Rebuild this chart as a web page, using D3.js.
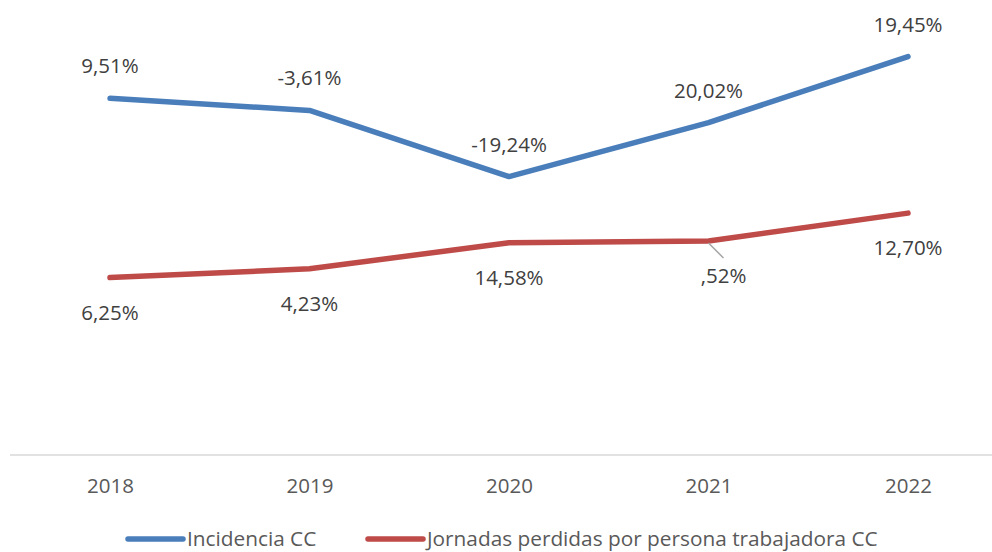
<!DOCTYPE html>
<html>
<head>
<meta charset="utf-8">
<script src="https://cdn.jsdelivr.net/npm/d3@7"></script>
<style>
  body { margin: 0; background: #fff; }
  text { font-family: "Open Sans", "Noto Sans", sans-serif; }
</style>
</head>
<body>
<div id="chart"></div>
<script>
// years and (estimated) line levels, labels are the yearly variation
const years = ["2018", "2019", "2020", "2021", "2022"];
const incidencia = [20.5, 19.8, 16.0, 19.1, 22.9];
const jornadas = [10.2, 10.7, 12.2, 12.3, 13.9];
const incidenciaLabels = ["9,51%", "-3,61%", "-19,24%", "20,02%", "19,45%"];
const jornadasLabels = ["6,25%", "4,23%", "14,58%", ",52%", "12,70%"];
const seriesNames = ["Incidencia CC", "Jornadas perdidas por persona trabajadora CC"];

const width = 992, height = 552;
const blue = "#4a7ebb", red = "#be4b48";

const svg = d3.select("#chart")
    .append("svg")
    .attr("width", width)
    .attr("height", height);

const xScale = d3.scalePoint()
    .domain(years)
    .range([110, 908]);

const yScale = d3.scaleLinear()
    .domain([0, 25])
    .range([455, 20]);

// category axis
const xAxis = svg.append("g")
    .attr("transform", `translate(0, ${yScale(0)})`)
    .call(d3.axisBottom(xScale).tickSize(0).tickPadding(0));
xAxis.select(".domain").remove();
xAxis.append("line")
    .attr("x1", 10).attr("x2", 992)
    .attr("stroke", "#d9d9d9")
    .attr("stroke-width", 1.5);
xAxis.selectAll(".tick text")
    .attr("y", 38)
    .attr("dy", null)
    .style("font-size", "20.5px")
    .attr("fill", "#595959");

const line = d3.line()
    .x((d, i) => xScale(years[i]))
    .y(d => yScale(d));

function drawSeries(values, color) {
    svg.append("path")
        .datum(values)
        .attr("d", line)
        .attr("fill", "none")
        .attr("stroke", color)
        .attr("stroke-width", 5.5)
        .attr("stroke-linecap", "round")
        .attr("stroke-linejoin", "round");
}

drawSeries(incidencia, blue);
drawSeries(jornadas, red);

// labels above the blue line
svg.selectAll(".lbl-inc")
    .data(incidencia)
    .enter()
    .append("text")
    .attr("class", "lbl-inc")
    .attr("x", (d, i) => xScale(years[i]))
    .attr("y", d => yScale(d) - 25)
    .attr("text-anchor", "middle")
    .style("font-size", "20.5px")
    .attr("fill", "#404040")
    .text((d, i) => incidenciaLabels[i]);

// labels below the red line (2021 moved aside with a leader line)
const shiftX = [0, 0, 0, 15, 0];
svg.append("line")
    .attr("x1", xScale("2021"))
    .attr("y1", yScale(jornadas[3]) + 2)
    .attr("x2", xScale("2021") + 15)
    .attr("y2", yScale(jornadas[3]) + 17)
    .attr("stroke", "#a6a6a6")
    .attr("stroke-width", 1.5);

svg.selectAll(".lbl-jor")
    .data(jornadas)
    .enter()
    .append("text")
    .attr("class", "lbl-jor")
    .attr("x", (d, i) => xScale(years[i]) + shiftX[i])
    .attr("y", d => yScale(d) + 42)
    .attr("text-anchor", "middle")
    .style("font-size", "20.5px")
    .attr("fill", "#404040")
    .text((d, i) => jornadasLabels[i]);

// legend
const legend = [
    { name: seriesNames[0], color: blue, x: 128 },
    { name: seriesNames[1], color: red, x: 368 }
];
legend.forEach(function (l) {
    svg.append("line")
        .attr("x1", l.x).attr("x2", l.x + 55)
        .attr("y1", 539).attr("y2", 539)
        .attr("stroke", l.color)
        .attr("stroke-width", 5.5)
        .attr("stroke-linecap", "round");
    svg.append("text")
        .attr("x", l.x + 59)
        .attr("y", 546)
        .style("font-size", "20.8px")
        .attr("fill", "#595959")
        .text(l.name);
});
</script>
</body>
</html>
